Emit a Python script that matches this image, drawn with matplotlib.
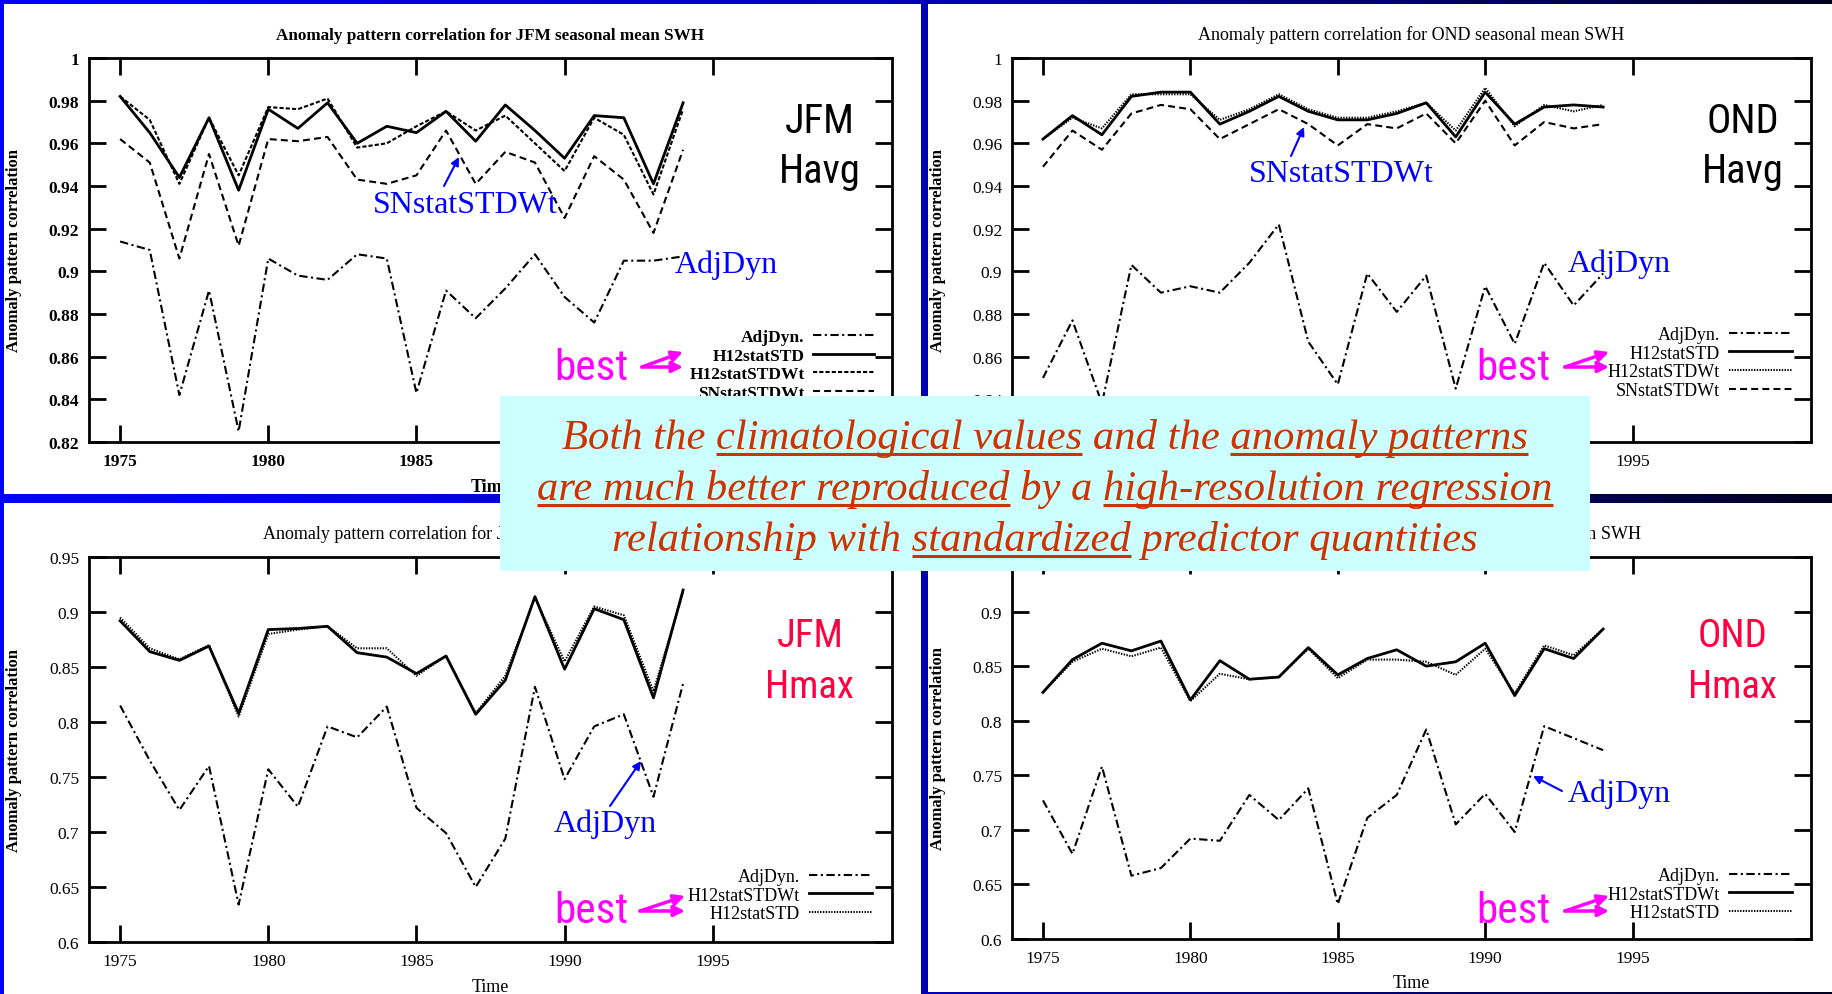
import numpy as np
import matplotlib
matplotlib.use('Agg')
import matplotlib.pyplot as plt
from matplotlib import font_manager
from matplotlib.font_manager import FontProperties
from matplotlib.colors import LinearSegmentedColormap
from matplotlib.patches import Rectangle

W, H = 1833, 995

years = list(range(1975, 1995))
xtick_years = [1975, 1980, 1985, 1990, 1995]

# JFM Havg (top left)
jfm_havg_adjdyn = [0.914, 0.910, 0.842, 0.891, 0.825, 0.906, 0.898, 0.896, 0.908, 0.906,
                   0.843, 0.891, 0.878, 0.892, 0.908, 0.888, 0.876, 0.905, 0.905, 0.907]
jfm_havg_h12std = [0.982, 0.965, 0.944, 0.972, 0.938, 0.976, 0.967, 0.979, 0.960, 0.968,
                   0.965, 0.975, 0.961, 0.978, 0.966, 0.953, 0.973, 0.972, 0.941, 0.979]
jfm_havg_h12stdwt = [0.982, 0.971, 0.941, 0.972, 0.945, 0.977, 0.976, 0.981, 0.958, 0.960,
                     0.968, 0.975, 0.966, 0.973, 0.960, 0.947, 0.972, 0.964, 0.936, 0.976]
jfm_havg_snstdwt = [0.962, 0.951, 0.906, 0.955, 0.912, 0.962, 0.961, 0.963, 0.943, 0.941,
                    0.945, 0.966, 0.941, 0.956, 0.951, 0.925, 0.954, 0.943, 0.918, 0.957]

# OND Havg (top right)
ond_havg_adjdyn = [0.850, 0.877, 0.838, 0.903, 0.890, 0.893, 0.890, 0.904, 0.922, 0.867,
                   0.847, 0.899, 0.881, 0.898, 0.845, 0.893, 0.866, 0.904, 0.884, 0.899]
ond_havg_h12std = [0.962, 0.973, 0.964, 0.982, 0.984, 0.984, 0.969, 0.975, 0.982, 0.975,
                   0.971, 0.971, 0.974, 0.979, 0.963, 0.984, 0.969, 0.977, 0.978, 0.977]
ond_havg_h12stdwt = [0.962, 0.972, 0.967, 0.983, 0.983, 0.983, 0.971, 0.976, 0.983, 0.976,
                     0.972, 0.972, 0.975, 0.979, 0.966, 0.986, 0.968, 0.978, 0.975, 0.978]
ond_havg_snstdwt = [0.949, 0.966, 0.957, 0.974, 0.978, 0.976, 0.962, 0.969, 0.976, 0.969,
                    0.959, 0.969, 0.967, 0.974, 0.960, 0.980, 0.959, 0.970, 0.967, 0.969]

# JFM Hmax (bottom left)
jfm_hmax_adjdyn = [0.815, 0.765, 0.720, 0.760, 0.634, 0.757, 0.723, 0.796, 0.786, 0.814,
                   0.722, 0.699, 0.650, 0.694, 0.832, 0.748, 0.796, 0.807, 0.732, 0.835]
jfm_hmax_h12stdwt = [0.892, 0.864, 0.856, 0.869, 0.808, 0.884, 0.885, 0.887, 0.863, 0.859,
                     0.844, 0.860, 0.807, 0.838, 0.914, 0.848, 0.903, 0.893, 0.822, 0.920]
jfm_hmax_h12std = [0.895, 0.867, 0.857, 0.870, 0.805, 0.880, 0.884, 0.887, 0.867, 0.867,
                   0.842, 0.860, 0.808, 0.842, 0.913, 0.855, 0.905, 0.897, 0.828, 0.918]

# OND Hmax (bottom right)
ond_hmax_adjdyn = [0.727, 0.678, 0.758, 0.658, 0.665, 0.692, 0.690, 0.732, 0.709, 0.738,
                   0.632, 0.711, 0.732, 0.792, 0.705, 0.733, 0.698, 0.795, 0.784, 0.773]
ond_hmax_h12stdwt = [0.826, 0.856, 0.871, 0.864, 0.873, 0.819, 0.855, 0.838, 0.840, 0.867,
                     0.842, 0.857, 0.865, 0.850, 0.854, 0.871, 0.823, 0.866, 0.857, 0.884]
ond_hmax_h12std = [0.826, 0.854, 0.866, 0.859, 0.867, 0.818, 0.843, 0.838, 0.840, 0.866,
                   0.839, 0.856, 0.856, 0.854, 0.842, 0.866, 0.825, 0.869, 0.860, 0.884]

havg_yticks = [0.82, 0.84, 0.86, 0.88, 0.9, 0.92, 0.94, 0.96, 0.98, 1.0]
havg_ylabels = ['0.82', '0.84', '0.86', '0.88', '0.9', '0.92', '0.94', '0.96', '0.98', '1']
hmax_yticks = [0.6, 0.65, 0.7, 0.75, 0.8, 0.85, 0.9, 0.95]
hmax_ylabels = ['0.6', '0.65', '0.7', '0.75', '0.8', '0.85', '0.9', '0.95']

summary_lines = [
    [("Both the ", False), ("climatological values", True), (" and the ", False), ("anomaly patterns", True)],
    [("are much better reproduced", True), (" by a ", False), ("high-resolution regression", True)],
    [("relationship with ", False), ("standardized", True), (" predictor quantities", False)],
]

plt.rcParams['font.family'] = ['Liberation Serif', 'DejaVu Serif']
plt.rcParams['lines.scale_dashes'] = False

BLUE = '#0000ff'
MAGENTA = '#ff00ff'
RED = '#ff0040'
BROWN = '#cc3300'

ls_dashdot = (0, (6, 2.5, 1.5, 2.5))
ls_dash = (0, (5, 3))
ls_short = (0, (3, 1.5))
ls_dot = (0, (1, 1))


# pick a narrow sans font if one is installed (labels look like Arial Narrow)
def find_narrow():
    prefs = ['liberation sans narrow', 'arial narrow', 'roboto condensed',
             'open sans condensed', 'noto sans condensed', 'dejavu sans condensed']
    found = {}
    for f in font_manager.fontManager.ttflist:
        name = f.name.lower()
        if f.style != 'normal' or f.weight not in (400, 'normal', 'regular'):
            continue
        if 'serif' in name or 'mono' in name:
            continue
        key = name
        if f.stretch in ('condensed', 'semi-condensed', 'extra-condensed') and 'condensed' not in name:
            key = name + ' condensed'
        if 'narrow' in key or 'condensed' in key:
            found.setdefault(key, f.fname)
    for p in prefs:
        if p in found:
            return FontProperties(fname=found[p])
    if found:
        return FontProperties(fname=sorted(found.items())[0][1])
    return FontProperties(family='Liberation Sans')


narrow = find_narrow()

fig = plt.figure(figsize=(W / 100, H / 100), dpi=100)
renderer = fig.canvas.get_renderer()


def fx(x):
    return x / W


def fy(y):
    return 1 - y / H


# background gradient and white panels
bg = fig.add_axes([0, 0, 1, 1], zorder=-10)
cmap = LinearSegmentedColormap.from_list(
    'bg', [(0, '#0000ff'), (0.5, '#0000bb'), (0.87, '#000050'), (1, '#000020')])
bg.imshow(np.linspace(0, 1, 512)[None, :], cmap=cmap, aspect='auto', extent=(0, W, H, 0))
for x0, y0, x1, y1 in [(4, 5, 921, 495), (928, 5, W, 495), (4, 504, 921, H), (928, 504, W, 993)]:
    bg.add_patch(Rectangle((x0, y0), x1 - x0, y1 - y0, facecolor='white', edgecolor='none'))
bg.set_xlim(0, W)
bg.set_ylim(H, 0)
bg.axis('off')


def panel(l, t, r, b, title, ylim, yticks, ylabels, series, legend_top, legend_right, bold):
    ax = fig.add_axes([fx(l), fy(b), (r - l) / W, (b - t) / H])
    ax.set_facecolor('none')
    wt = 'bold' if bold else 'normal'
    handles = []
    for vals, label, ls, lw in series:
        h, = ax.plot(years, vals, color='black', linestyle=ls, lw=lw, label=label)
        handles.append(h)
    ax.set_xlim(1973.95, 2001.05)
    ax.set_ylim(*ylim)
    ax.set_xticks(xtick_years)
    ax.set_xticklabels([str(y) for y in xtick_years], fontsize=12.5, fontweight=wt)
    ax.set_yticks(yticks)
    ax.set_yticklabels(ylabels, fontsize=12.5, fontweight=wt)
    ax.tick_params(direction='in', top=True, right=True, length=12, width=2)
    ax.tick_params(axis='x', pad=8)
    ax.tick_params(axis='y', pad=7)
    for sp in ax.spines.values():
        sp.set_linewidth(2)
    ax.set_title(title, fontsize=12.3 if bold else 13, fontweight=wt, pad=14)
    ax.set_ylabel('Anomaly pattern correlation', fontsize=12, fontweight='bold')
    ax.yaxis.set_label_coords(-0.083, 0.5)
    ax.set_xlabel('Time', fontsize=13, fontweight=wt)
    ax.xaxis.set_label_coords(0.5, -0.115)
    ax.xaxis.label.set_va('center')
    ax.legend(handles=handles, loc='upper right', markerfirst=False, frameon=False,
              bbox_to_anchor=(fx(legend_right), fy(legend_top)), bbox_transform=fig.transFigure,
              borderpad=0, borderaxespad=0, handlelength=3.5, handletextpad=0.5,
              labelspacing=0.14 if bold else 0.09,
              prop={'size': 12.5 if bold else 13, 'weight': wt})
    return ax


panel(89, 59, 892, 443, 'Anomaly pattern correlation for JFM seasonal mean SWH',
      (0.82, 1.0), havg_yticks, havg_ylabels,
      [(jfm_havg_adjdyn, 'AdjDyn.', ls_dashdot, 1.5),
       (jfm_havg_h12std, 'H12statSTD', '-', 2.0),
       (jfm_havg_h12stdwt, 'H12statSTDWt', ls_short, 1.5),
       (jfm_havg_snstdwt, 'SNstatSTDWt', ls_dash, 1.5)],
      330, 874, True)

panel(1012, 59, 1811, 443, 'Anomaly pattern correlation for OND seasonal mean SWH',
      (0.82, 1.0), havg_yticks, havg_ylabels,
      [(ond_havg_adjdyn, 'AdjDyn.', ls_dashdot, 1.5),
       (ond_havg_h12std, 'H12statSTD', '-', 2.0),
       (ond_havg_h12stdwt, 'H12statSTDWt', ls_dot, 1.5),
       (ond_havg_snstdwt, 'SNstatSTDWt', ls_dash, 1.5)],
      327, 1792, False)

panel(89, 558, 892, 943, 'Anomaly pattern correlation for JFM seasonal maximum SWH',
      (0.6, 0.95), hmax_yticks, hmax_ylabels,
      [(jfm_hmax_adjdyn, 'AdjDyn.', ls_dashdot, 1.5),
       (jfm_hmax_h12stdwt, 'H12statSTDWt', '-', 2.0),
       (jfm_hmax_h12std, 'H12statSTD', ls_dot, 1.5)],
      869, 872, False)

panel(1012, 558, 1811, 940, 'Anomaly pattern correlation for OND seasonal maximum SWH',
      (0.6, 0.95), hmax_yticks, hmax_ylabels,
      [(ond_hmax_adjdyn, 'AdjDyn.', ls_dashdot, 1.5),
       (ond_hmax_h12stdwt, 'H12statSTDWt', '-', 2.0),
       (ond_hmax_h12std, 'H12statSTD', ls_dot, 1.5)],
      868, 1792, False)

# overlay in pixel coordinates for annotations and the summary box
ov = fig.add_axes([0, 0, 1, 1], zorder=5)
ov.set_xlim(0, W)
ov.set_ylim(H, 0)
ov.axis('off')


def text_width(s, **kw):
    t = ov.text(0, 0, s, **kw)
    w = t.get_window_extent(renderer).width
    t.remove()
    return w


def fit_size(s, target_w, max_size):
    p = narrow.copy()
    p.set_size(20)
    w = text_width(s, fontproperties=p)
    return min(max_size, 20 * target_w / w)


havg_size = fit_size('Havg', 82, 30)
hmax_size = fit_size('Hmax', 89, 30)
best_size = fit_size('best', 74, 35)


def narrow_text(x, y, s, size, color):
    p = narrow.copy()
    p.set_size(size)
    ov.text(x, y, s, ha='center', va='baseline', color=color, fontproperties=p)


for cx, yb1, yb2, s1, s2, col, size in [(820, 133, 183, 'JFM', 'Havg', 'black', havg_size),
                                        (1743, 133, 183, 'OND', 'Havg', 'black', havg_size),
                                        (810, 647, 698, 'JFM', 'Hmax', RED, hmax_size),
                                        (1733, 647, 698, 'OND', 'Hmax', RED, hmax_size)]:
    narrow_text(cx, yb1, s1, size, col)
    narrow_text(cx, yb2, s2, size, col)

for cx, yb in [(591, 380), (1513, 380), (591, 923), (1513, 923)]:
    narrow_text(cx, yb, 'best', best_size, MAGENTA)

for tail, h1, h2 in [((642, 368), (683, 353), (683, 368)),
                     ((1565, 368), (1609, 353), (1609, 368)),
                     ((640, 912), (685, 897), (685, 912)),
                     ((1565, 912), (1609, 897), (1609, 912))]:
    for head in (h1, h2):
        ov.annotate('', xy=head, xytext=tail,
                    arrowprops=dict(arrowstyle='-|>', color=MAGENTA, lw=2.5,
                                    mutation_scale=16, shrinkA=0, shrinkB=0))

for cx, yb, s in [(465, 213, 'SNstatSTDWt'), (1341, 182, 'SNstatSTDWt'),
                  (726, 273, 'AdjDyn'), (1619, 272, 'AdjDyn'),
                  (605, 832, 'AdjDyn'), (1619, 802, 'AdjDyn')]:
    ov.text(cx, yb, s, ha='center', va='baseline', fontsize=23, color=BLUE)

for tail, head in [((444, 187), (459, 158)), ((1291, 157), (1304, 128)),
                   ((610, 807), (641, 762)), ((1562, 792), (1533, 777))]:
    ov.annotate('', xy=head, xytext=tail,
                arrowprops=dict(arrowstyle='-|>', color=BLUE, lw=1.5,
                                mutation_scale=12, shrinkA=0, shrinkB=0))

# summary box
ov.add_patch(Rectangle((500, 397), 1090, 175, facecolor='#ccffff', edgecolor='none'))
kw = dict(fontsize=30.7, style='italic', color=BROWN)

for segs, yb in zip(summary_lines, [449, 500, 551]):
    full = ''.join(s for s, _ in segs)
    x0 = 1045 - text_width(full, **kw) / 2
    ov.text(x0, yb, full, ha='left', va='baseline', **kw)
    for i, (s, under) in enumerate(segs):
        if under:
            x_end = x0 + text_width(''.join(p for p, _ in segs[:i + 1]), **kw)
            x_start = x_end - text_width(s, **kw)
            ov.plot([x_start, x_end], [yb + 5.5, yb + 5.5], color=BROWN, lw=2.2,
                    solid_capstyle='butt')

fig.savefig('out.png', dpi=100)
